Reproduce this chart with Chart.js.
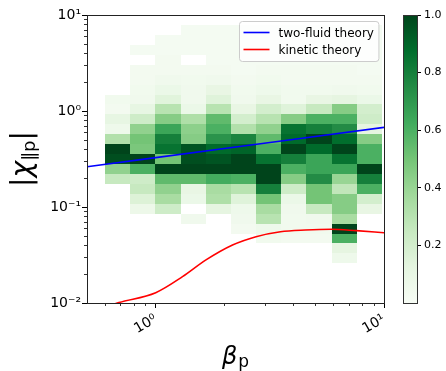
<!DOCTYPE html>
<html><head><meta charset="utf-8">
<script src="https://cdn.jsdelivr.net/npm/chart.js@4/dist/chart.umd.min.js"></script>
<style>html,body{margin:0;padding:0;background:#fff;} canvas{display:block;}</style>
</head><body>
<canvas id="c" width="446" height="371"></canvas>
<script>
// ---- data ----
const xBinEdges = [0.599, 0.772, 0.996, 1.284, 1.655, 2.134, 2.752, 3.549, 4.576, 5.900, 7.608, 9.81];
const yBinEdges = [7.870, 6.200, 4.888, 3.851, 3.035, 2.392, 1.885, 1.485, 1.170, 0.922, 0.727, 0.573,
                   0.4513, 0.3556, 0.2803, 0.2208, 0.1740, 0.1371, 0.1080, 0.0852, 0.0671, 0.0529, 0.0417, 0.0328, 0.0259];
// normalised density, one array per beta bin (top row first)
const densityCol0  = [0,0,0,0,0,0,0,0.04,0.03,0.11,0.06,0.32,1.0,0.97,0.42,0.25,0,0,0,0,0,0,0,0];
const densityCol1  = [0,0,0.02,0,0.03,0.03,0.04,0.05,0.11,0.22,0.42,0.5,0.48,1.0,0.6,0.22,0.25,0.16,0.07,0,0,0,0,0];
const densityCol2  = [0,0.02,0.02,0.03,0.03,0.05,0.08,0.14,0.3,0.45,0.65,0.8,0.85,0.5,1.0,0.55,0.42,0.35,0.22,0,0,0,0,0];
const densityCol3  = [0.02,0.02,0.02,0,0.03,0.04,0.05,0.05,0.08,0.33,0.43,0.45,0.95,0.97,1.0,0.55,0.1,0.08,0,0.05,0,0,0,0];
const densityCol4  = [0.02,0.02,0.02,0.02,0.03,0.05,0.1,0.15,0.3,0.55,0.6,0.72,0.88,0.95,1.0,0.62,0.35,0.33,0.12,0,0,0,0,0];
const densityCol5  = [0.02,0.02,0.02,0.02,0.02,0.03,0.04,0.05,0.1,0.2,0.32,0.78,0.9,1.0,1.0,0.6,0.3,0.15,0.06,0.05,0.03,0,0,0];
const densityCol6  = [0.02,0.02,0.02,0.02,0.03,0.04,0.06,0.1,0.2,0.3,0.42,0.55,0.6,0.85,1.0,1.0,0.8,0.5,0.35,0.3,0.06,0.04,0,0];
const densityCol7  = [0.02,0.02,0.02,0.02,0.03,0.03,0.04,0.04,0.15,0.45,0.85,0.88,1.0,0.8,0.6,0.45,0.22,0.08,0.05,0.04,0.04,0.03,0,0];
const densityCol8  = [0.02,0.02,0.02,0.02,0.03,0.03,0.04,0.1,0.25,0.6,0.8,1.0,0.88,0.65,0.65,0.75,0.5,0.5,0.25,0.05,0.04,0.03,0,0];
const densityCol9  = [0.02,0.02,0.02,0.02,0.03,0.03,0.05,0.12,0.45,0.6,0.75,0.87,1.0,0.85,0.65,0.4,0.27,0.45,0.45,0.35,1.0,0.6,0.12,0.06];
const densityCol10 = [0.02,0.02,0.02,0.02,0.02,0.03,0.04,0.08,0.2,0.22,0.12,0.45,0.6,0.6,1.0,0.8,0.6,0.2,0.1,0,0,0,0,0];
const density = [densityCol0,densityCol1,densityCol2,densityCol3,densityCol4,densityCol5,densityCol6,densityCol7,densityCol8,densityCol9,densityCol10];

const twoFluidBeta = [0.5, 1, 2, 5, 10];
const twoFluidChi  = [0.263, 0.327, 0.407, 0.543, 0.676];
const kineticBeta  = [0.62, 0.69, 1.0, 1.31, 1.66, 2.17, 2.75, 3.52, 4.53, 5.87, 7.56, 10];
const kineticChi   = [0.0093, 0.0101, 0.0128, 0.0188, 0.0281, 0.0402, 0.0491, 0.0553, 0.0576, 0.0586, 0.0567, 0.054];

const xTickValues = [1, 10];
const xTickLabels = ['10\u2070', '10\u00b9'];
const yTickValues = [0.01, 0.1, 1, 10];
const yTickLabels = ['10\u207b\u00b2', '10\u207b\u00b9', '10\u2070', '10\u00b9'];
const xMinorTicks = [0.6,0.7,0.8,0.9,2,3,4,5,6,7,8,9];
const yMinorTicks = [0.02,0.03,0.04,0.05,0.06,0.07,0.08,0.09,0.2,0.3,0.4,0.5,0.6,0.7,0.8,0.9,2,3,4,5,6,7,8,9];
const cbTickValues = [0.2, 0.4, 0.6, 0.8, 1.0];

// ---- Greens colormap ----
const GREENS = [[247,252,245],[229,245,224],[199,233,192],[161,217,155],[116,196,118],[65,171,93],[35,139,69],[0,109,44],[0,68,27]];
function greens(t){
  t = Math.max(0, Math.min(1, t));
  const p = t*8, i = Math.min(7, Math.floor(p)), f = p - i;
  const a = GREENS[i], b = GREENS[i+1];
  return 'rgb(' + [0,1,2].map(k => Math.round(a[k] + (b[k]-a[k])*f)).join(',') + ')';
}

Chart.defaults.font.family = 'DejaVu Sans';
Chart.defaults.color = '#000';

const FONT = 'DejaVu Sans';
const customDraw = {
  id: 'customDraw',
  beforeDatasetsDraw(chart){
    const {ctx, chartArea: a, scales: {x, y}} = chart;
    ctx.save();
    ctx.beginPath(); ctx.rect(a.left, a.top, a.width, a.height); ctx.clip();
    for (let i = 0; i < density.length; i++){
      const x0 = Math.round(x.getPixelForValue(xBinEdges[i])), x1 = Math.round(x.getPixelForValue(xBinEdges[i+1]));
      for (let j = 0; j < density[i].length; j++){
        const v = density[i][j]; if (!v) continue;
        const y0 = Math.round(y.getPixelForValue(yBinEdges[j])), y1 = Math.round(y.getPixelForValue(yBinEdges[j+1]));
        ctx.fillStyle = greens(v);
        ctx.fillRect(x0, y0, x1-x0, y1-y0);
      }
    }
    ctx.restore();
  },
  afterDatasetsDraw(chart){
    // legend box
    const {ctx, chartArea: a} = chart;
    ctx.save();
    ctx.font = '12px ' + FONT;
    const ds = chart.data.datasets;
    const tw = Math.max(...ds.map(d => ctx.measureText(d.label).width));
    const w = 4 + 26 + 9 + tw + 5, h = 40;
    const bx = Math.round(a.right - 6 - w) + 0.5, by = Math.round(a.top + 6) + 0.5;
    ctx.beginPath();
    if (ctx.roundRect) ctx.roundRect(bx, by, w, h, 3); else ctx.rect(bx, by, w, h);
    ctx.fillStyle = 'rgba(255,255,255,0.8)'; ctx.fill();
    ctx.strokeStyle = '#cccccc'; ctx.lineWidth = 1; ctx.stroke();
    ds.forEach((d, k) => {
      const ly = by + 11 + k*17;
      ctx.strokeStyle = d.borderColor; ctx.lineWidth = 1.6;
      ctx.beginPath(); ctx.moveTo(bx + 4, ly); ctx.lineTo(bx + 30, ly); ctx.stroke();
      ctx.fillStyle = '#000'; ctx.textBaseline = 'middle'; ctx.textAlign = 'left';
      ctx.fillText(d.label, bx + 39, ly + 1);
    });
    ctx.restore();
  },
  afterDraw(chart){
    const {ctx, chartArea: a, scales: {x, y, cb}} = chart;
    ctx.save();
    // minor ticks
    ctx.strokeStyle = '#000'; ctx.lineWidth = 0.8;
    ctx.beginPath();
    xMinorTicks.forEach(v => { const px = Math.round(x.getPixelForValue(v)) + 0.5; ctx.moveTo(px, a.bottom); ctx.lineTo(px, a.bottom + 3); });
    yMinorTicks.forEach(v => { const py = Math.round(y.getPixelForValue(v)) + 0.5; ctx.moveTo(a.left, py); ctx.lineTo(a.left - 3, py); });
    ctx.stroke();
    // frame
    ctx.strokeStyle = '#222'; ctx.lineWidth = 1;
    ctx.strokeRect(a.left + 0.5, a.top + 0.5, a.width, a.height);
    // colorbar
    const bx1 = Math.round(cb.left), bx0 = bx1 - 14;
    const top = cb.getPixelForValue(1), bot = cb.getPixelForValue(0);
    const g = ctx.createLinearGradient(0, bot, 0, top);
    GREENS.forEach((c, k) => g.addColorStop(k/8, 'rgb(' + c.join(',') + ')'));
    ctx.fillStyle = g; ctx.fillRect(bx0, top, bx1 - bx0, bot - top);
    ctx.strokeStyle = '#333'; ctx.strokeRect(bx0 + 0.5, top + 0.5, bx1 - bx0, bot - top);
    // x title: beta_p
    const cx = (a.left + a.right)/2;
    ctx.fillStyle = '#000'; ctx.textBaseline = 'alphabetic'; ctx.textAlign = 'left';
    ctx.font = 'italic 24px ' + FONT; const wB = ctx.measureText('\u03b2').width;
    ctx.font = '17px ' + FONT; const wP = ctx.measureText('p').width;
    let sx = cx - (wB + 1 + wP)/2;
    ctx.font = 'italic 24px ' + FONT; ctx.fillText('\u03b2', sx, 364);
    ctx.font = '17px ' + FONT; ctx.fillText('p', sx + wB + 1, 367);
    // y title: |chi_{|| p}|
    const parts = [
      {t:'|', f:'28px ' + FONT, dy:0},
      {t:'\u03c7', f:'italic 28px ' + FONT, dy:0},
      {t:'\u2225p', f:'18px ' + FONT, dy:4},
      {t:'|', f:'28px ' + FONT, dy:0}
    ];
    let total = 0;
    parts.forEach(p => { ctx.font = p.f; p.w = ctx.measureText(p.t).width; total += p.w; });
    ctx.translate(31, (a.top + a.bottom)/2);
    ctx.rotate(-Math.PI/2);
    let tx = -total/2;
    parts.forEach(p => { ctx.font = p.f; ctx.fillText(p.t, tx, p.dy); tx += p.w; });
    ctx.restore();
  }
};

new Chart(document.getElementById('c'), {
  type: 'scatter',
  data: { datasets: [
    { label: 'two-fluid theory', data: twoFluidBeta.map((b, i) => ({x: b, y: twoFluidChi[i]})),
      showLine: true, borderColor: '#0000ff', borderWidth: 1.6, pointRadius: 0, fill: false },
    { label: 'kinetic theory', data: kineticBeta.map((b, i) => ({x: b, y: kineticChi[i]})),
      showLine: true, borderColor: '#ff0000', borderWidth: 1.6, pointRadius: 0, fill: false, cubicInterpolationMode: 'monotone' }
  ]},
  options: {
    responsive: false, animation: false, devicePixelRatio: 1,
    layout: { padding: { top: 15, left: 0, right: 0, bottom: 0 } },
    plugins: { legend: { display: false }, tooltip: { enabled: false } },
    scales: {
      x: { type: 'logarithmic', position: 'bottom', min: 0.5, max: 10,
        afterBuildTicks: s => { s.ticks = xTickValues.map(v => ({value: v, major: true})); },
        afterFit: s => { s.height = 68; },
        grid: { display: true, drawOnChartArea: false, tickLength: 5, color: '#000', tickWidth: 1 },
        border: { display: false },
        ticks: { autoSkip: false, minRotation: 30, maxRotation: 30, padding: 3, color: '#000', font: { size: 14 },
          callback: v => xTickLabels[xTickValues.indexOf(v)] } },
      y: { type: 'logarithmic', position: 'left', min: 0.01, max: 10,
        afterBuildTicks: s => { s.ticks = yTickValues.map(v => ({value: v, major: true})); },
        afterFit: s => { s.width = 87; },
        grid: { display: true, drawOnChartArea: false, tickLength: 5, color: '#000', tickWidth: 1 },
        border: { display: false },
        ticks: { autoSkip: false, padding: 1, color: '#000', font: { size: 14 },
          callback: v => yTickLabels[yTickValues.indexOf(v)] } },
      gap: { type: 'linear', position: 'right', weight: 0, min: 0, max: 1,
        afterFit: s => { s.width = 33; },
        grid: { display: false }, border: { display: false }, ticks: { display: false } },
      cb: { type: 'linear', position: 'right', weight: 1, min: 0, max: 1,
        afterBuildTicks: s => { s.ticks = cbTickValues.map(v => ({value: v})); },
        afterFit: s => { s.width = 29; },
        grid: { display: true, drawOnChartArea: false, tickLength: 4, color: '#000' },
        border: { display: false },
        ticks: { padding: 3, color: '#000', font: { size: 11 }, callback: v => v.toFixed(1) } }
    }
  },
  plugins: [customDraw]
});
</script>
</body></html>
